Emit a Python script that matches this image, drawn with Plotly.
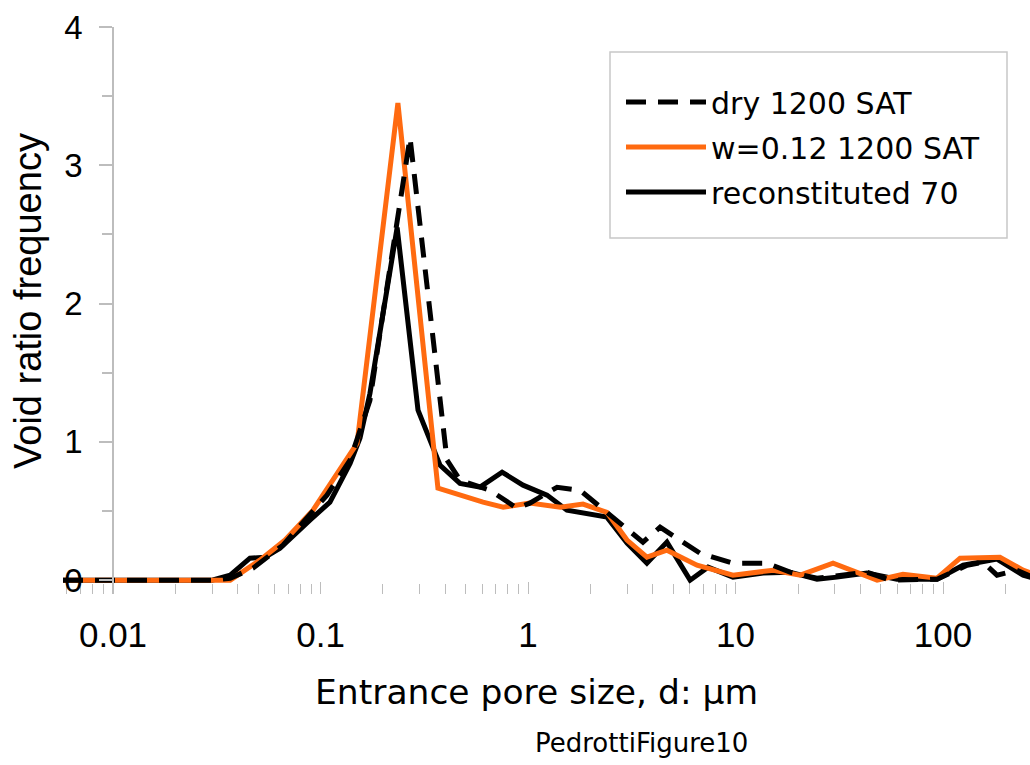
import plotly.graph_objects as go

# ---- data ----
dry_x = [0.00574, 0.01, 0.02, 0.030, 0.0367, 0.0473, 0.0659, 0.1074, 0.139, 0.173, 0.200, 0.270,
         0.407, 0.470, 0.656, 0.885, 1.02, 1.38, 1.78, 2.69, 3.58, 4.33, 6.74, 9.72, 14.2,
         18.3, 24.7, 43.0, 55.6, 93.5, 130.6, 156, 182, 227, 293]
dry_y = [0, 0, 0, 0, 0.014, 0.087, 0.253, 0.615, 0.87, 1.30, 1.93, 3.20,
         0.868, 0.723, 0.65, 0.52, 0.557, 0.672, 0.65, 0.434, 0.275, 0.383, 0.195, 0.123, 0.123,
         0.058, 0.014, 0.058, 0.0, 0.007, 0.108, 0.13, 0.036, 0.072, 0.0]

wet_x = [0.00574, 0.01, 0.02, 0.0367, 0.051, 0.0675, 0.092, 0.150, 0.236, 0.368, 0.607, 0.759,
         1.02, 1.43, 1.84, 2.40, 3.0, 3.74, 4.67, 6.52, 9.72, 15.2, 20.5, 29.5, 48.1,
         64.1, 93.5, 120.8, 188, 243, 293]
wet_y = [0, 0, 0, 0, 0.145, 0.29, 0.506, 0.99, 3.45, 0.665, 0.564, 0.528,
         0.557, 0.528, 0.55, 0.49, 0.29, 0.166, 0.217, 0.108, 0.036, 0.072, 0.036, 0.123, 0.0,
         0.043, 0.014, 0.159, 0.166, 0.072, 0.03]

rec_x = [0.00574, 0.01, 0.02, 0.030, 0.0367, 0.0457, 0.054, 0.0638, 0.0889, 0.111, 0.139, 0.155,
         0.173, 0.234, 0.295, 0.377, 0.470, 0.587, 0.750, 0.946, 1.235, 1.54, 2.40, 3.0,
         3.74, 4.67, 6.04, 7.37, 9.72, 13.6, 18.3, 24.7, 30.8, 43.0, 60.0, 93.5, 125, 182, 243, 293]
rec_y = [0, 0, 0, 0, 0.036, 0.159, 0.166, 0.231, 0.434, 0.564, 0.846, 1.027,
         1.35, 2.55, 1.23, 0.83, 0.70, 0.673, 0.781, 0.687, 0.615, 0.506, 0.456, 0.268,
         0.123, 0.275, 0.0, 0.094, 0.022, 0.051, 0.058, 0.007, 0.022, 0.051, 0.007, 0.007, 0.108, 0.152, 0.036, 0.0]

x_ticks = [0.01, 0.1, 1, 10, 100]
x_ticktext = ["0.01", "0.1", "1", "10", "100"]
y_ticks = [0, 1, 2, 3, 4]

names = ["dry 1200 SAT", "w=0.12 1200 SAT", "reconstituted 70"]

ORANGE = "#FF6A10"
GRAY = "#BDBDBD"

fig = go.Figure()
fig.add_trace(go.Scatter(x=rec_x, y=rec_y, mode="lines", name=names[2], legendgroup="c",
                         legendrank=3, line=dict(color="black", width=5)))
fig.add_trace(go.Scatter(x=wet_x, y=wet_y, mode="lines", name=names[1], legendgroup="b",
                         legendrank=2, line=dict(color=ORANGE, width=5)))
fig.add_trace(go.Scatter(x=dry_x, y=dry_y, mode="lines", name=names[0], legendgroup="a",
                         legendrank=1, line=dict(color="black", width=5, dash="20px,12px")))

L, R, T, B = 63, 0, 27, 171
W, H = 1030, 765
pw = W - L - R
ph = H - T - B

def px_x(p):
    return (p - L) / pw

def px_y(p):
    return (H - B - p) / ph

fig.update_layout(
    width=W, height=H,
    margin=dict(l=L, r=R, t=T, b=B),
    paper_bgcolor="white", plot_bgcolor="white",
    showlegend=True,
    legend=dict(x=px_x(621), y=px_y(76), xanchor="left", yanchor="top",
                traceorder="grouped", tracegroupgap=3, itemwidth=80,
                bgcolor="rgba(0,0,0,0)", borderwidth=0,
                font=dict(family="DejaVu Sans", size=30, color="black")),
    xaxis=dict(type="log", range=[-2.241, 2.419], tickmode="linear", tick0=0, dtick=1,
               tickvals=x_ticks, ticktext=x_ticktext,
               ticks="inside", ticklen=12, tickwidth=1.2, tickcolor=GRAY,
               minor=dict(dtick="D1", ticks="inside", ticklen=10, tickwidth=1.2, tickcolor=GRAY,
                          showgrid=False),
               showline=False, showgrid=False, zeroline=False,
               ticklabelstandoff=17,
               tickfont=dict(family="Liberation Sans", size=35, color="black")),
    yaxis=dict(range=[-0.1, 4], tickvals=y_ticks, anchor="free", position=px_x(113),
               ticks="outside", ticklen=13, tickwidth=1.5, tickcolor=GRAY,
               minor=dict(dtick=0.5, ticks="outside", ticklen=10, tickwidth=1.5, tickcolor=GRAY,
                          showgrid=False),
               showline=True, linecolor=GRAY, linewidth=1.5,
               showgrid=False, zeroline=False,
               ticklabelstandoff=10,
               tickfont=dict(family="Liberation Sans", size=33, color="black")),
    shapes=[dict(type="rect", xref="paper", yref="paper",
                 x0=px_x(610), x1=px_x(1007), y0=px_y(238), y1=px_y(52),
                 line=dict(color="#C8C8C8", width=1.5), fillcolor="rgba(0,0,0,0)")],
    annotations=[
        dict(text="Void ratio frequency", xref="paper", yref="paper",
             x=px_x(28), y=px_y(301), xanchor="center", yanchor="middle", textangle=-90,
             showarrow=False, font=dict(family="Liberation Sans", size=38, color="black")),
        dict(text="Entrance pore size, d: \u03bcm", xref="paper", yref="paper",
             x=px_x(536), y=px_y(692), xanchor="center", yanchor="middle",
             showarrow=False, font=dict(family="DejaVu Sans", size=34.5, color="black")),
        dict(text="PedrottiFigure10", xref="paper", yref="paper",
             x=px_x(641), y=px_y(743), xanchor="center", yanchor="middle",
             showarrow=False, font=dict(family="DejaVu Sans", size=26, color="black")),
    ],
)

fig.write_html("out.html")
